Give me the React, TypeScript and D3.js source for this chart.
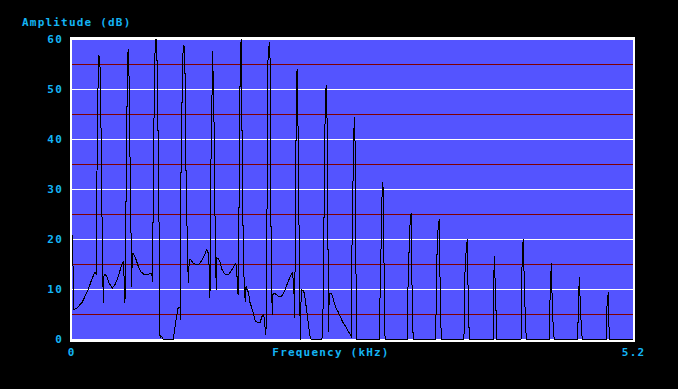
import React from "react";
import * as d3 from "d3";

// Spectrum trace: frequency (kHz) and amplitude (dB)
const freqKHz = [
  0, 0.006, 0.016, 0.044, 0.09, 0.12, 0.151, 0.183, 0.213, 0.225,
  0.229, 0.241, 0.25, 0.26, 0.269, 0.281, 0.29, 0.297,
  0.306, 0.322, 0.343, 0.374, 0.399, 0.429, 0.461, 0.476, 0.485, 0.491,
  0.498, 0.51, 0.519, 0.526, 0.531, 0.544, 0.553, 0.559,
  0.568, 0.593, 0.615, 0.637, 0.667, 0.698, 0.723, 0.739, 0.748,
  0.754, 0.769, 0.779, 0.788, 0.797, 0.806, 0.816,
  0.831, 0.846, 0.939, 0.955, 0.97, 0.985, 1.001, 1.006,
  1.01, 1.026, 1.038, 1.047, 1.057, 1.069, 1.078, 1.087,
  1.1, 1.124, 1.149, 1.171, 1.202, 1.224, 1.249, 1.263, 1.273, 1.279,
  1.286, 1.298, 1.302, 1.313, 1.323, 1.328, 1.338, 1.344,
  1.36, 1.375, 1.39, 1.415, 1.452, 1.483, 1.514, 1.527, 1.532, 1.539,
  1.545, 1.554, 1.56, 1.569, 1.579, 1.588, 1.597, 1.606, 1.613,
  1.622, 1.638, 1.647, 1.662, 1.684, 1.699, 1.715, 1.745, 1.761, 1.777, 1.786, 1.792, 1.798,
  1.801, 1.81, 1.817, 1.829, 1.838, 1.842, 1.847, 1.857, 1.863,
  1.875, 1.891, 1.916, 1.94, 1.962, 1.993, 2.023, 2.042, 2.055, 2.064,
  2.07, 2.079, 2.086, 2.095, 2.107, 2.116,
  2.125, 2.148, 2.162, 2.178, 2.194, 2.209, 2.218, 2.317,
  2.327, 2.333, 2.342, 2.348, 2.357, 2.364, 2.373, 2.376,
  2.385, 2.401, 2.416, 2.431, 2.447, 2.466, 2.487, 2.509, 2.528, 2.549, 2.57, 2.589,
  2.595, 2.611, 2.617, 2.623, 2.63, 2.639, 2.846,
  2.852, 2.861, 2.871, 2.876, 2.885, 2.892, 2.898, 2.908, 3.108,
  3.11, 3.114, 3.126, 3.136, 3.145, 3.15, 3.154, 3.164, 3.371,
  3.377, 3.386, 3.395, 3.404, 3.414, 3.423, 3.633,
  3.64, 3.652, 3.664, 3.673, 3.683, 3.905,
  3.907, 3.914, 3.927, 3.937, 4.162,
  4.165, 4.174, 4.183, 4.192, 4.202, 4.211, 4.424,
  4.426, 4.433, 4.443, 4.452, 4.461, 4.47, 4.687,
  4.693, 4.702, 4.711, 4.721, 4.73, 4.95,
  4.952, 4.962, 4.971, 4.98, 5.2,
];

const amplitudeDB = [
  21.0, 19.3, 6.0, 6.3, 7.3, 8.6, 10.0, 12.0, 13.5, 13.0,
  28.7, 50.1, 56.8, 54.4, 42.1, 19.0, 7.3, 13.0,
  13.0, 12.6, 11.3, 10.3, 11.0, 12.6, 15.0, 15.5, 11.3, 7.3,
  22.0, 46.8, 57.5, 58.1, 47.1, 26.7, 10.6, 17.3,
  17.3, 16.0, 14.6, 13.6, 13.0, 13.0, 13.2, 13.3, 11.6,
  35.4, 57.1, 60.1, 55.8, 42.4, 24.7, 0.3,
  0.6, 0, 0, 2.6, 4.6, 6.5, 6.5, 4.0,
  32.7, 56.8, 58.8, 54.2, 33.4, 19.1, 11.3, 16.0,
  16.0, 15.2, 15.0, 15.0, 15.7, 16.7, 18.0, 17.3, 14.0, 8.3,
  32.7, 49.1, 57.6, 49.1, 32.7, 17.3, 10.0, 16.3,
  16.1, 15.3, 14.0, 13.1, 13.0, 14.0, 15.2, 14.7, 10.6, 9.0,
  18.3, 41.4, 57.8, 60.0, 33.4, 18.0, 10.3, 7.6, 10.6,
  10.0, 9.3, 7.6, 6.6, 5.0, 3.6, 3.5, 3.5, 4.6, 5.0, 3.3, 1.9, 0.9,
  10.6, 31.7, 56.1, 59.5, 55.0, 33.4, 12.6, 5.0, 9.0,
  9.3, 9.0, 8.6, 8.6, 9.3, 11.0, 12.6, 13.3, 11.3, 4.3,
  22.0, 46.8, 54.1, 42.7, 16.7, 0,
  10.0, 9.7, 8.0, 5.3, 2.6, 0.3, 0, 0,
  6.3, 18.7, 36.0, 49.1, 50.8, 44.1, 18.0, 1.6,
  9.3, 9.3, 8.6, 7.3, 6.3, 5.6, 4.6, 3.5, 2.9, 2.1, 1.3, 0.6,
  18.3, 40.1, 44.4, 40.7, 18.3, 0, 0,
  5.0, 14.6, 25.3, 31.4, 30.1, 15.3, 1.1, 0, 0,
  2.6, 10.0, 19.0, 24.3, 25.3, 15.3, 4.6, 0, 0,
  9.3, 20.0, 22.7, 24.0, 8.0, 0, 0,
  12.3, 17.3, 20.0, 8.0, 0, 0,
  8.3, 16.7, 8.6, 0, 0,
  7.6, 17.7, 20.1, 11.6, 4.4, 0, 0,
  2.7, 10.3, 15.2, 6.8, 2.3, 0, 0,
  6.0, 12.5, 7.6, 2.5, 0, 0,
  3.4, 8.0, 9.4, 0, 0,
];

const yMajorTicks = [0, 10, 20, 30, 40, 50, 60];
const yMinorTicks = [5, 15, 25, 35, 45, 55];
const xTickLabels = ["0", "5.2"];
const xDomain = [0, 5.2];
const yDomain = [0, 60];

const W = 678;
const H = 389;
const TEXT = "#14b4f4";
const FONT = "'DejaVu Sans Mono', 'Liberation Mono', monospace";

export default function App() {
  const x = d3.scaleLinear().domain(xDomain).range([72, 633]);
  const y = d3.scaleLinear().domain(yDomain).range([339.5, 39.5]);
  const pts: [number, number][] = freqKHz.map((f, i) => [f, amplitudeDB[i]]);
  const line = d3
    .line<[number, number]>()
    .x((d) => x(d[0]))
    .y((d) => y(d[1]));

  const textStyle = {
    fontFamily: FONT,
    fontWeight: 700,
    fontSize: 11,
    letterSpacing: "1.2px",
  } as React.CSSProperties;

  return (
    <div style={{ position: "fixed", left: 0, top: 0, width: W, height: H, background: "#000" }}>
      <svg width={W} height={H} style={{ display: "block" }}>
        <rect x={0} y={0} width={W} height={H} fill="#000" />
        <rect x={70} y={37} width={565} height={305} fill="#fff" shapeRendering="crispEdges" />
        <rect x={72} y={40} width={561} height={299} fill="#5454ff" shapeRendering="crispEdges" />
        {yMinorTicks.map((t) => (
          <line key={"m" + t} x1={72} x2={633} y1={y(t)} y2={y(t)} stroke="#800000" strokeWidth={1} shapeRendering="crispEdges" />
        ))}
        {yMajorTicks
          .filter((t) => t > 0 && t < 60)
          .map((t) => (
            <line key={"M" + t} x1={72} x2={633} y1={y(t)} y2={y(t)} stroke="#ffffff" strokeWidth={1} shapeRendering="crispEdges" />
          ))}
        <path d={line(pts) || ""} fill="none" stroke="#000" strokeWidth={1} shapeRendering="crispEdges" />
        <text x={22} y={22.5} fill={TEXT} style={textStyle} dominantBaseline="central">
          Amplitude (dB)
        </text>
        {yMajorTicks.map((t) => (
          <text key={"yl" + t} x={63} y={y(t)} fill={TEXT} style={textStyle} textAnchor="end" dominantBaseline="central">
            {String(t)}
          </text>
        ))}
        {xTickLabels.map((l, i) => (
          <text key={"xl" + l} x={(i === 0 ? x(xDomain[0]) - 1 : x(xDomain[1])) + 0.6} y={352.5} fill={TEXT} style={textStyle} textAnchor="middle" dominantBaseline="central">
            {l}
          </text>
        ))}
        <text x={331} y={352.5} fill={TEXT} style={textStyle} textAnchor="middle" dominantBaseline="central">
          Frequency (kHz)
        </text>
      </svg>
    </div>
  );
}
